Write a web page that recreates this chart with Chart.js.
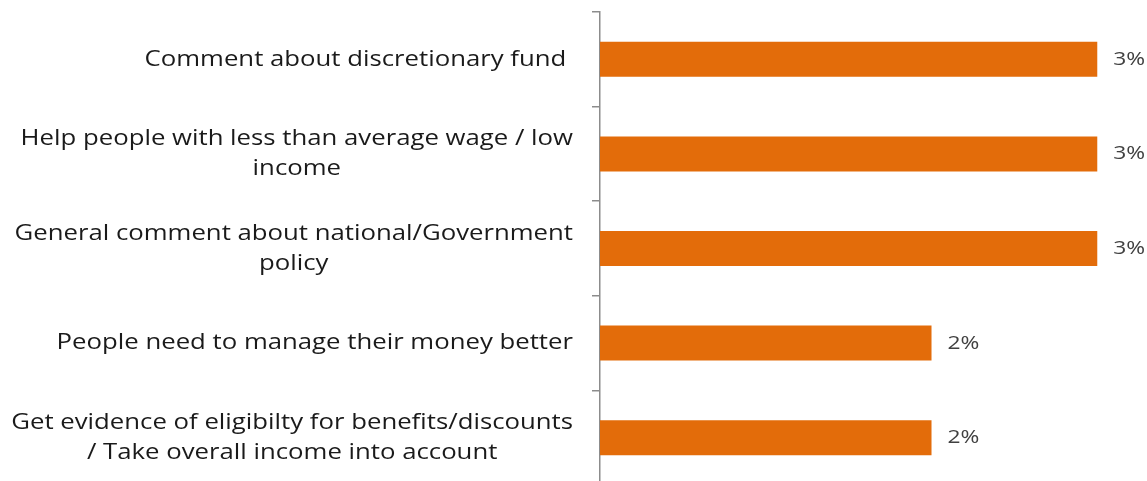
<!DOCTYPE html>
<html>
<head>
<meta charset="utf-8">
<script src="https://cdn.jsdelivr.net/npm/chart.js@4.4.1/dist/chart.umd.min.js"></script>
<style>
  html, body { margin: 0; padding: 0; background: #fff; overflow: hidden; }
  #wrap { position: relative; width: 1147px; height: 486px; }
</style>
</head>
<body>
<div id="wrap"><canvas id="chart"></canvas></div>
<script>
const categories = [
    ["Comment about discretionary fund "],
    ["Help people with less than average wage / low", "income"],
    ["General comment about national/Government", "policy"],
    ["People need to manage their money better"],
    ["Get evidence of eligibilty for benefits/discounts", "/ Take overall income into account"],
];
const shares = [3, 3, 3, 2, 2];
const valueLabels = ["3%", "3%", "3%", "2%", "2%"];

const FONT = '"Open Sans", "Noto Sans", sans-serif';
const BAR_COLOR = "#E36C0A";
const STRETCH = 1.17; // text is drawn a little wider than the font's natural width

// draw text horizontally stretched, anchored at x according to align
function wideText(ctx, text, x, y, align, sx) {
    const w = ctx.measureText(text).width * sx;
    let left = x;
    if (align === "center") left = x - w / 2;
    else if (align === "right") left = x - w;
    ctx.save();
    ctx.translate(left, y);
    ctx.scale(sx, 1);
    ctx.textAlign = "left";
    ctx.fillText(text, 0, 0);
    ctx.restore();
}

// category names, right-aligned as a block with the lines centred inside it
const categoryText = {
    id: "categoryText",
    afterDraw(chart) {
        const ctx = chart.ctx;
        const y = chart.scales.y;
        const right = 573;
        const lineH = 30;
        ctx.save();
        ctx.font = "22px " + FONT;
        ctx.fillStyle = "#1a1a1a";
        ctx.textBaseline = "middle";
        categories.forEach((lines, i) => {
            const cy = y.getPixelForValue(i);
            const w = Math.max(...lines.map(l => ctx.measureText(l).width)) * STRETCH;
            const cx = right - w / 2;
            lines.forEach((line, j) => {
                wideText(ctx, line, cx, cy + (j - (lines.length - 1) / 2) * lineH, "center", STRETCH);
            });
        });
        ctx.restore();
    }
};

// percentage at the end of each bar
const valueText = {
    id: "valueText",
    afterDatasetsDraw(chart) {
        const ctx = chart.ctx;
        const meta = chart.getDatasetMeta(0);
        ctx.save();
        ctx.font = "19px " + FONT;
        ctx.fillStyle = "#404040";
        ctx.textBaseline = "middle";
        meta.data.forEach((bar, i) => {
            wideText(ctx, valueLabels[i], bar.x + 16, bar.y, "left", 1.2);
        });
        ctx.restore();
    }
};

new Chart(document.getElementById("chart"), {
    type: "bar",
    data: {
        labels: categories,
        datasets: [{
            data: shares,
            backgroundColor: BAR_COLOR,
            borderWidth: 0,
            barPercentage: 0.37,
            categoryPercentage: 1,
        }],
    },
    options: {
        indexAxis: "y",
        responsive: true,
        maintainAspectRatio: false,
        animation: false,
        layout: { padding: { top: 12, bottom: 1, left: 0, right: 0 } },
        plugins: {
            legend: { display: false },
            tooltip: { enabled: false },
        },
        scales: {
            x: {
                display: false,
                min: 0,
                max: 3.3,
            },
            y: {
                afterFit(scale) { scale.width = 600; },
                ticks: { display: false },
                grid: {
                    offset: true,
                    drawOnChartArea: false,
                    drawTicks: true,
                    tickLength: 8,
                    color: "#8c8c8c",
                    lineWidth: 1.5,
                },
                border: { display: true, color: "#8c8c8c", width: 1.5 },
            },
        },
    },
    plugins: [categoryText, valueText],
});
</script>
</body>
</html>
